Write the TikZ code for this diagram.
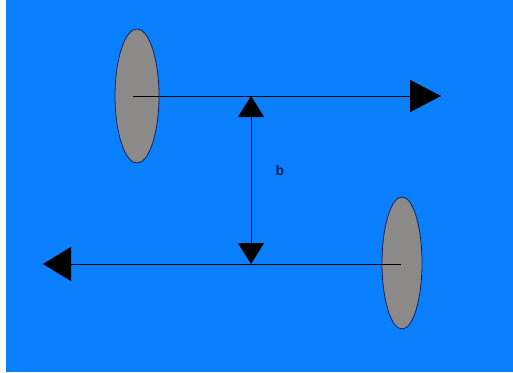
\documentclass[tikz,border=0pt]{standalone}
\usepackage{fontspec}
\setmainfont{Liberation Sans}
\usetikzlibrary{arrows.meta,shapes.geometric}
\definecolor{bg}{RGB}{10,128,255}
\definecolor{lens}{RGB}{140,138,136}
\definecolor{rim}{RGB}{20,30,90}
\tikzset{
  lensnode/.style={ellipse,draw=rim,fill=lens,line width=0.8pt,inner sep=0pt},
  beam/.style={draw=black,line width=0.8pt},
}
\begin{document}
\begin{tikzpicture}[x=1pt,y=-1pt]
\fill[white] (0,0) rectangle (513,372);
\fill[bg] (6,0) rectangle (513,372);
\useasboundingbox (0,0) rectangle (513,372);
\node[lensnode,minimum width=44pt,minimum height=134pt] (e1) at (137,96) {};
\node[lensnode,minimum width=40pt,minimum height=132pt] (e2) at (402,263) {};
\coordinate (t1) at (441,96);
\coordinate (t2) at (43,264);
\coordinate (v1) at (251,96);
\coordinate (v2) at (251,264);
\draw[beam,-{Triangle[length=31pt,width=32pt]}] (e1.center) ++(-4,0) -- (t1);
\draw[beam,-{Triangle[length=28pt,width=34pt]}] (e2.center) ++(-1,1) -- (t2);
\draw[beam,{Triangle[length=21pt,width=26pt]}-{Triangle[length=21pt,width=26pt]}] (v1) -- (v2);
\node[font=\bfseries\fontsize{14}{16}\selectfont,text=rim] (b) at (280,170) {b};
\end{tikzpicture}
\end{document}
